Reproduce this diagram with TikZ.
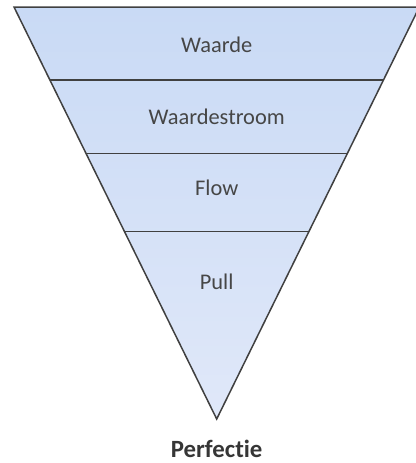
\documentclass[tikz,border=0pt]{standalone}
\usepackage{fontspec}
\setmainfont[Ligatures={NoCommon}]{Carlito}
\usepackage{tikz}
\usetikzlibrary{calc,positioning}
\definecolor{bandtop}{RGB}{201,218,245}
\definecolor{bandbot}{RGB}{224,232,249}
\definecolor{edgegrey}{RGB}{64,64,64}
\definecolor{textgrey}{RGB}{70,70,70}

\begin{document}
\begin{tikzpicture}[x=0.5pt,y=-0.5pt]

\tikzset{bandline/.style={draw=edgegrey,line width=0.75pt,line join=miter},
bandlabel/.style={font=\fontsize{11.2}{13}\selectfont,text=textgrey,anchor=base,inner sep=0pt},
baselabel/.style={font=\fontsize{12.4}{14}\selectfont\bfseries,text=edgegrey!85!black,anchor=base,inner sep=0pt}}

\useasboundingbox (0,0) rectangle (416,463);

% Corners of the funnel
\coordinate (tl) at (14,7);
\coordinate (tr) at (419.4,7);
\coordinate (apex) at (216.7,419);

% Funnel body
\shade[top color=bandtop,bottom color=bandbot] (tl) -- (tr) -- (apex) -- cycle;

% Band borders
\coordinate (l1) at ($(tl)!0.1776!(apex)$); \coordinate (r1) at ($(tr)!0.1776!(apex)$);
\coordinate (l2) at ($(tl)!0.3552!(apex)$); \coordinate (r2) at ($(tr)!0.3552!(apex)$);
\coordinate (l3) at ($(tl)!0.5450!(apex)$); \coordinate (r3) at ($(tr)!0.5450!(apex)$);
\draw[bandline] (l1) -- (r1); \draw[bandline] (l2) -- (r2); \draw[bandline] (l3) -- (r3);
\draw[bandline] (tl) -- (tr) -- (apex) -- cycle;

% Band labels
\node[bandlabel] (waarde) at (216.7,52) {Waarde};
\node[bandlabel] (stroom) at (216.7,124) {Waardestroom};
\node[bandlabel] (flow) at (216.7,195) {Flow};
\node[bandlabel] (pull) at (216.7,289) {Pull};

% Below the apex
\node[baselabel] (perfectie) at (216.7,457.5) {Perfectie};

\end{tikzpicture}
\end{document}
